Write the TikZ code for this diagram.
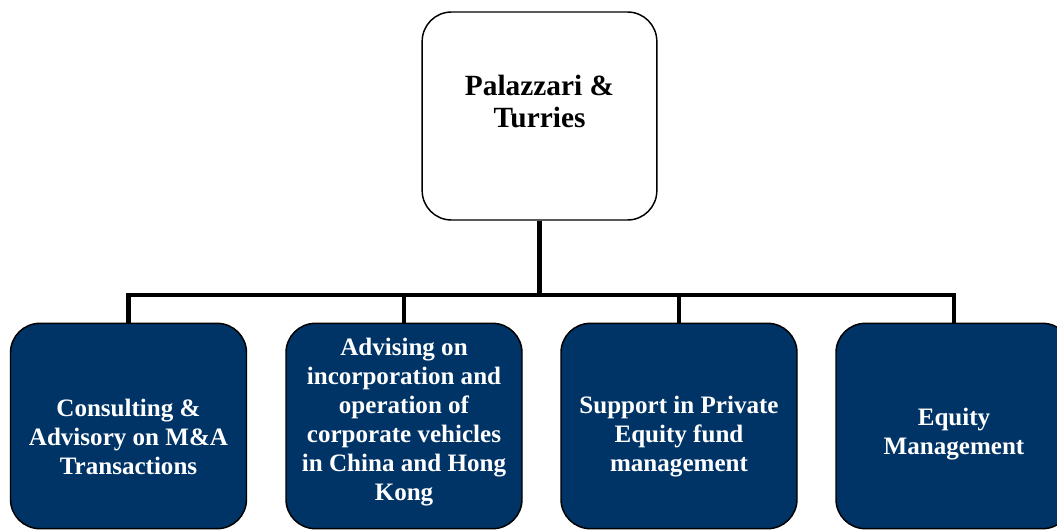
\documentclass[tikz,border=0pt]{standalone}
\usepackage{fontspec}
\setmainfont{Liberation Serif}
\usepackage{xcolor}
\usetikzlibrary{positioning, calc}
\definecolor{orgcolor0}{HTML}{003366}
\definecolor{orgcolor1}{HTML}{000000}
\definecolor{orgcolor2}{HTML}{FFFFFF}
\tikzset{
  box_root/.style={draw=orgcolor1, fill=orgcolor2, line width=1.1pt, rounded corners=22pt, minimum width=176pt, minimum height=156pt, inner sep=0pt},
  box_service/.style={draw=orgcolor1, fill=orgcolor0, line width=1.1pt, rounded corners=22pt, minimum width=177pt, minimum height=154pt, inner sep=0pt},
  text_root/.style={align=center, font=\fontsize{22}{24}\selectfont\bfseries, text=orgcolor1},
  text_service/.style={align=center, font=\fontsize{18.8}{21.75}\selectfont\bfseries, text=orgcolor2},
  edge_bus/.style={line width=3.2pt, color=orgcolor1}
}
\begin{document}
\begin{tikzpicture}[x=0.75pt, y=-0.75pt]
\useasboundingbox (0,0) rectangle (1057,529);
\clip (0,0) rectangle (1057,529);
\node[box_root] (root_box) at (539.5, 116) {};
\node[text_root] (root_text) at (539.5, 101) {Palazzari \&\\Turries};
\coordinate (bus_node) at (539.5, 295);
\node[box_service] (consult_box) at (128.5, 426) {};
\node[box_service] (advise_box) at (404, 426) {};
\node[box_service] (private_box) at (679, 426) {};
\node[box_service] (equity_box) at (954, 426) {};
\node[text_service] (consult_text) at (128.5, 437) {Consulting \&\\Advisory on M\&A\\Transactions};
\node[text_service] (advise_text) at (404, 422) {Advising on\\incorporation and\\operation of\\corporate vehicles\\in China and Hong\\Kong};
\node[text_service] (private_text) at (679, 437) {Support in Private\\Equity fund\\management};
\node[text_service] (equity_text) at (954, 434) {Equity\\Management};
\draw[edge_bus] (root_box.south) -- (bus_node);
\draw[edge_bus] (bus_node) -| (consult_box.north);
\draw[edge_bus] (bus_node) -| (advise_box.north);
\draw[edge_bus] (bus_node) -| (private_box.north);
\draw[edge_bus] (bus_node) -| (equity_box.north);
\end{tikzpicture}
\end{document}
